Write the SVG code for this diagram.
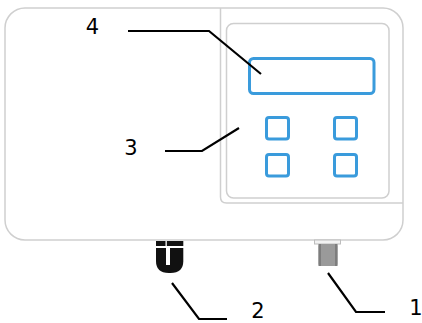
<svg xmlns="http://www.w3.org/2000/svg" width="422" height="323" viewBox="0 0 422 323">
  <style>
    .housing { fill: #ffffff; stroke: #cfcfcf; stroke-width: 1.5; }
    .panel { fill: none; stroke: #cfcfcf; stroke-width: 1.5; }
    .key { fill: #ffffff; stroke: #3a9bdc; stroke-width: 3; }
    .leader { fill: none; stroke: #000000; stroke-width: 2.2; }
    .label { font-family: "DejaVu Sans", Verdana, sans-serif; font-size: 21px; fill: #000000; text-anchor: middle; }
  </style>
  <rect width="422" height="323" fill="#ffffff"/>

  <!-- Housing body -->
  <g id="housing">
    <rect class="housing" x="5" y="8" width="398" height="232" rx="20" ry="20"/>
    <path class="panel" d="M220.5 8 V197 Q220.5 203 226.5 203 H403"/>
  </g>

  <!-- Control panel: display and keypad -->
  <g id="control-panel">
    <rect class="panel" x="226.5" y="23.5" width="162.5" height="174.5" rx="7" ry="7"/>
    <rect class="key" x="249.5" y="58.5" width="124.5" height="35" rx="4" ry="4"/>
    <rect class="key" x="266.5" y="117.5" width="22" height="21.5" rx="2.5" ry="2.5"/>
    <rect class="key" x="334.5" y="117.5" width="22" height="21.5" rx="2.5" ry="2.5"/>
    <rect class="key" x="266.5" y="154.5" width="22" height="21.5" rx="2.5" ry="2.5"/>
    <rect class="key" x="334.5" y="154.5" width="22" height="21.5" rx="2.5" ry="2.5"/>
  </g>

  <!-- Cable gland -->
  <g id="cable-gland">
    <rect x="156" y="241" width="9.5" height="5" fill="#111111"/>
    <rect x="166.8" y="241" width="16.5" height="5" fill="#111111"/>
    <path d="M156 248 H183.3 V261 Q183.3 273 170.5 273 H168.8 Q156 273 156 261 Z" fill="#111111"/>
    <rect x="166" y="248" width="4" height="17" fill="#ffffff"/>
  </g>

  <!-- Hose connector -->
  <g id="hose-connector">
    <rect x="314.5" y="240" width="26" height="4" fill="#f2f2f2" stroke="#bdbdbd" stroke-width="1"/>
    <rect x="318.5" y="244" width="19" height="22" rx="2" fill="#9a9a9a"/>
    <rect x="318.5" y="244" width="2.5" height="22" fill="#7d7d7d"/>
    <rect x="335" y="244" width="2.5" height="22" fill="#7d7d7d"/>
  </g>

  <!-- Leader lines -->
  <g id="connectors">
    <polyline class="leader" points="128,31 209,31 261,74"/>
    <polyline class="leader" points="165,151 202,151 239,128"/>
    <polyline class="leader" points="172,283 199,319 227,319"/>
    <polyline class="leader" points="328,273 356,312 385,312"/>
  </g>

  <!-- Callout numbers -->
  <g id="labels">
    <text class="label" x="92.5" y="34">4</text>
    <text class="label" x="131" y="155">3</text>
    <text class="label" x="258" y="317.5">2</text>
    <text class="label" x="416" y="315">1</text>
  </g>
</svg>
